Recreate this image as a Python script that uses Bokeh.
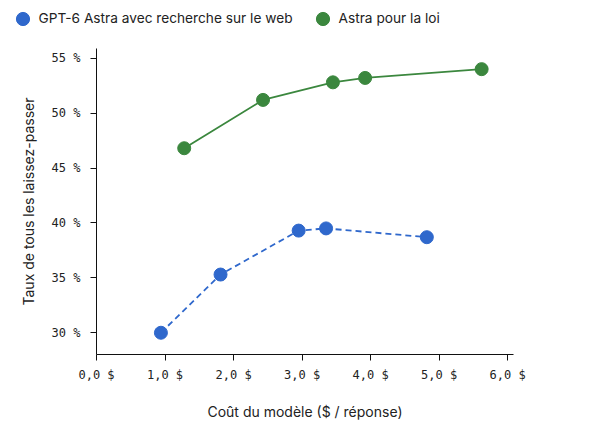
from bokeh.plotting import figure
from bokeh.layouts import column
from bokeh.models import ColumnDataSource, FixedTicker, Legend, LegendItem, Range1d
from bokeh.embed import file_html
from bokeh.resources import INLINE

# valeurs
web_cost = [0.94, 1.81, 2.95, 3.35, 4.82]
web_pass = [30.0, 35.3, 39.3, 39.5, 38.7]
law_cost = [1.28, 2.43, 3.45, 3.92, 5.62]
law_pass = [46.8, 51.2, 52.8, 53.2, 54.0]

x_ticks = [0, 1, 2, 3, 4, 5, 6]
x_labels = ["0,0 $", "1,0 $", "2,0 $", "3,0 $", "4,0 $", "5,0 $", "6,0 $"]
y_ticks = [30, 35, 40, 45, 50, 55]
y_labels = ["30 %", "35 %", "40 %", "45 %", "50 %", "55 %"]

BLUE = "#2f68cc"
GREEN = "#3b873e"
SANS = "Inter"
MONO = "DejaVu Sans Mono"

web = ColumnDataSource(dict(x=web_cost, y=web_pass))
law = ColumnDataSource(dict(x=law_cost, y=law_pass))

p = figure(width=592, height=385, output_backend="svg", toolbar_location=None,
           x_range=Range1d(0, 6.085), y_range=Range1d(28.02, 55.88),
           min_border_left=96, min_border_right=79,
           min_border_top=8, min_border_bottom=71)
p.frame_align = False
p.outline_line_color = None
p.grid.grid_line_color = None

p.line("x", "y", source=web, color=BLUE, line_width=1.8, line_dash="6 4")
p.scatter("x", "y", source=web, size=13, color=BLUE)
p.line("x", "y", source=law, color=GREEN, line_width=1.8)
p.scatter("x", "y", source=law, size=13, color=GREEN)

p.xaxis.ticker = FixedTicker(ticks=x_ticks)
p.xaxis.major_label_overrides = dict(zip(x_ticks, x_labels))
p.yaxis.ticker = FixedTicker(ticks=y_ticks)
p.yaxis.major_label_overrides = dict(zip(y_ticks, y_labels))

for ax in (p.xaxis, p.yaxis):
    ax.minor_tick_line_color = None
    ax.major_tick_in = 0
    ax.major_tick_out = 6
    ax.axis_line_color = "#111111"
    ax.major_tick_line_color = "#111111"
    ax.major_label_text_font = MONO
    ax.major_label_text_font_size = "12px"
    ax.major_label_text_color = "#222222"
    ax.axis_label_text_font = SANS
    ax.axis_label_text_font_size = "14px"
    ax.axis_label_text_font_style = "normal"
    ax.axis_label_text_color = "#222222"

p.xaxis.major_label_standoff = 7
p.yaxis.major_label_standoff = 10
p.xaxis.axis_label = "Coût du modèle ($ / réponse)"
p.yaxis.axis_label = "Taux de tous les laissez-passer"
p.xaxis.axis_label_standoff = 18
p.yaxis.axis_label_standoff = 12

# bandeau de légende séparé, au-dessus du graphique
lg = figure(width=592, height=40, output_backend="svg", toolbar_location=None,
            x_range=Range1d(-20, -19), y_range=Range1d(-20, -19),
            min_border=0, x_axis_type=None, y_axis_type=None)
lg.frame_align = False
lg.outline_line_color = None
lg.grid.grid_line_color = None
r_web = lg.scatter("x", "y", source=web, size=13, color=BLUE)
r_law = lg.scatter("x", "y", source=law, size=13, color=GREEN)

legend = Legend(items=[
    LegendItem(label="GPT-6 Astra avec recherche sur le web", renderers=[r_web]),
    LegendItem(label="Astra pour la loi", renderers=[r_law]),
], orientation="horizontal", location=(5.5, 5.5))
legend.border_line_color = None
legend.background_fill_alpha = 0
legend.padding = 0
legend.margin = 0
legend.spacing = 13
legend.glyph_width = 33
legend.glyph_height = 33
legend.label_standoff = 0
legend.label_text_font = SANS
legend.label_text_font_size = "13.7px"
legend.label_text_color = "#222222"
lg.add_layout(legend, "center")

open("out.html", "w").write(file_html(column(lg, p, spacing=0), INLINE))
